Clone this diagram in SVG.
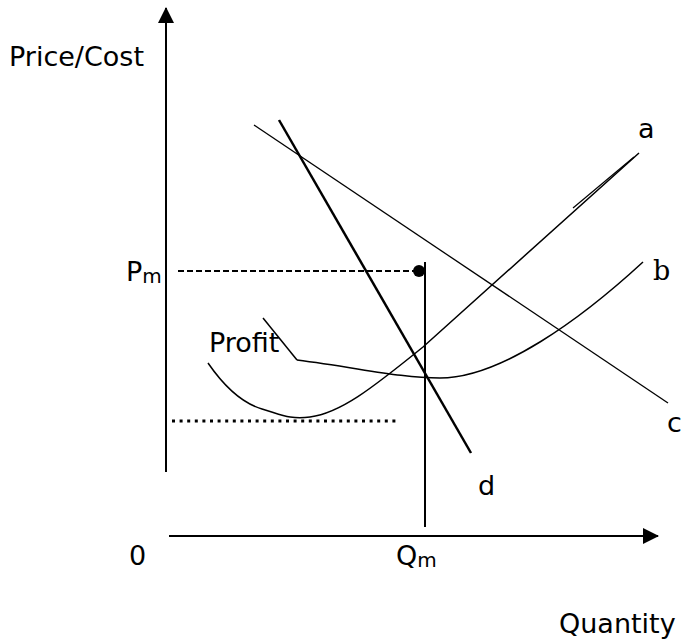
<svg xmlns="http://www.w3.org/2000/svg" width="681" height="643" viewBox="0 0 681 643">
<style>
.t{font-family:"DejaVu Sans",Verdana,sans-serif;font-size:27px;fill:#000}
.s{font-family:"DejaVu Serif",serif;font-size:27px;fill:#000}
.sub{font-size:20px}
.ln{fill:none;stroke:#000}
</style>
<defs>
<marker id="ah" viewBox="0 0 16 16" refX="15" refY="8" markerWidth="16" markerHeight="16" markerUnits="userSpaceOnUse" orient="auto">
<path d="M0,0 L16,8 L0,16 Z" fill="#000"/>
</marker>
</defs>
<rect width="681" height="643" fill="#fff"/>
<g id="connectors">
<line id="y-axis" class="ln" x1="166" y1="472" x2="166" y2="8" stroke-width="2" marker-end="url(#ah)"/>
<line id="x-axis" class="ln" x1="169" y1="536" x2="658" y2="536" stroke-width="2" marker-end="url(#ah)"/>
<line id="pm-dash" class="ln" x1="178" y1="271" x2="414" y2="271" stroke-width="2.2" stroke-dasharray="6 3"/>
<line id="qm-line" class="ln" x1="425" y1="262" x2="425" y2="527" stroke-width="2"/>
<line id="dotted" class="ln" x1="172" y1="421" x2="396" y2="421" stroke-width="3" stroke-dasharray="3 4.6"/>
<line id="line-d" class="ln" x1="279" y1="120" x2="471" y2="453" stroke-width="2.5"/>
<line id="line-c" class="ln" x1="254" y1="125" x2="668" y2="403" stroke-width="1.3"/>
<path id="curve-a" class="ln" stroke-width="1.5" d="M208,363 C228,392 245,404 262,409 C280,414 290,420 310,417 C340,413 370,390 423,347 L639,153"/>
<line id="curve-a-double" class="ln" x1="573" y1="208" x2="634" y2="157" stroke-width="1.2"/>
<path id="curve-b" class="ln" stroke-width="1.5" d="M297,360 C360,368 400,378 440,378 C500,378 580,320 643,262"/>
<line id="profit-leader" class="ln" x1="263" y1="318" x2="297" y2="360" stroke-width="1.5"/>
</g>
<g id="point-pm"><circle cx="419" cy="271" r="6" fill="#000"/></g>
<g id="label-price"><text class="t" x="9" y="66" font-size="28">Price/Cost</text></g>
<g id="label-pm"><text class="t" x="126" y="281">P<tspan class="sub" dy="2">m</tspan></text></g>
<g id="label-profit"><text class="t" x="209" y="352">Profit</text></g>
<g id="label-a"><text class="t" x="638" y="138">a</text></g>
<g id="label-b"><text class="s" x="653" y="280">b</text></g>
<g id="label-c"><text class="t" x="667" y="432">c</text></g>
<g id="label-d"><text class="t" x="478" y="495">d</text></g>
<g id="label-0"><text class="t" x="129" y="565">0</text></g>
<g id="label-qm"><text class="t" x="396" y="565">Q<tspan class="sub" dy="2">m</tspan></text></g>
<g id="label-quantity"><text class="t" x="559" y="633">Quantity</text></g>
</svg>
